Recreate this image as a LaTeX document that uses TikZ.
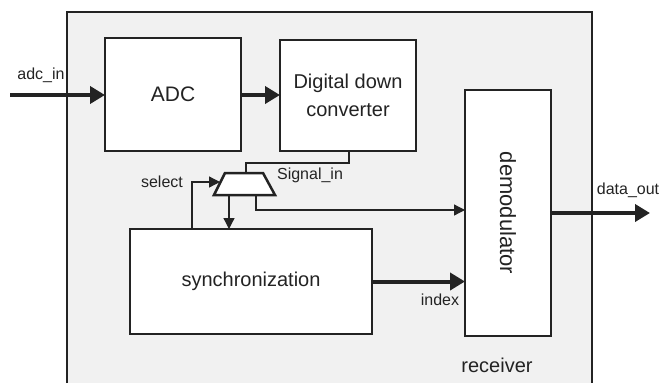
\documentclass[tikz,border=0pt]{standalone}
\usepackage{fontspec}
\setmainfont{Liberation Sans}
\usetikzlibrary{arrows.meta,calc}
\definecolor{linec}{RGB}{35,35,35}
\definecolor{bgc}{RGB}{241,241,241}
\begin{document}
\begin{tikzpicture}[x=1pt,y=-1pt,
  blk/.style={draw=linec,line width=1.5pt,fill=white,inner sep=0pt,outer sep=0pt,text=linec},
  big/.style={font=\fontsize{20}{28}\selectfont},
  lbl/.style={font=\fontsize{16}{18}\selectfont,text=linec,inner sep=0pt},
  thick wire/.style={draw=linec,line width=4pt,-{Triangle[length=15pt,width=17pt]}},
  thin wire/.style={draw=linec,line width=1.3pt},
  thin arrow/.style={thin wire,-{Triangle[length=11pt,width=11pt]}},
  muxshape/.style={draw=linec,line width=2.5pt,fill=white,line join=miter}]
\useasboundingbox (0,0) rectangle (664,383);
% receiver block
\fill[bgc] (67,12) rectangle (592,383);
\draw[linec,line width=1.5pt] (67,383) -- (67,12) -- (592,12) -- (592,383);
\node[lbl,font=\fontsize{20}{22}\selectfont] (recv) at (497,365) {receiver};
% blocks
\node[blk,big,font=\fontsize{21}{24}\selectfont,minimum width=136pt,minimum height=113pt] (adc) at (173,94.5) {ADC};
\node[blk,big,align=center,minimum width=136pt,minimum height=111pt] (ddc) at (348,95.5) {Digital down\\converter};
\node[blk,minimum width=86pt,minimum height=246pt] (demod) at (508,213) {};
\node[font=\fontsize{22}{24}\selectfont,text=linec,rotate=-90,inner sep=0pt] (demodtxt) at (demod.center) {demodulator};
\node[blk,big,minimum width=242pt,minimum height=105pt] (sync) at (251,281.5) {synchronization};
% multiplexer
\coordinate (mxtl) at (225,173);
\coordinate (mxtr) at (263,173);
\coordinate (mxbr) at (275,195);
\coordinate (mxbl) at (214,195);
\draw[muxshape] (mxtl) -- (mxtr) -- (mxbr) -- (mxbl) -- cycle;
\coordinate (mxin) at (246,173);
\coordinate (mxsel) at (220,182);
\coordinate (mo1) at (229,195);
\coordinate (mo2) at (256,195);
% external
\coordinate (ain) at (10,95);
\coordinate (dout) at (650,213);
\draw[thick wire] (ain) -- (ain -| adc.west);
\node[lbl] (ainl) at (41,75) {adc\_in};
\draw[thick wire] (adc.east |- ain) -- (ain -| ddc.west);
\draw[thick wire] (demod.east |- dout) -- (dout);
\node[lbl] (doutl) at (628,190) {data\_out};
\draw[thick wire] (sync.east) -- (sync.east -| demod.west);
\node[lbl] (idxl) at (440,300) {index};
% mux wiring
\coordinate (sig) at ([xshift=-67pt]ddc.south east);
\draw[thin wire] (sig) -- ++(0,12) -| (mxin);
\node[lbl] (sigl) at (310,175) {Signal\_in};
\coordinate (selb) at ([xshift=62pt]sync.north west);
\draw[thin arrow] (selb) |- (mxsel);
\node[lbl] (sell) at (162,182) {select};
\draw[thin arrow] (mo1) -- (mo1 |- sync.north);
\draw[thin arrow] (mo2) |- ([yshift=3pt]demod.west);
\end{tikzpicture}
\end{document}
